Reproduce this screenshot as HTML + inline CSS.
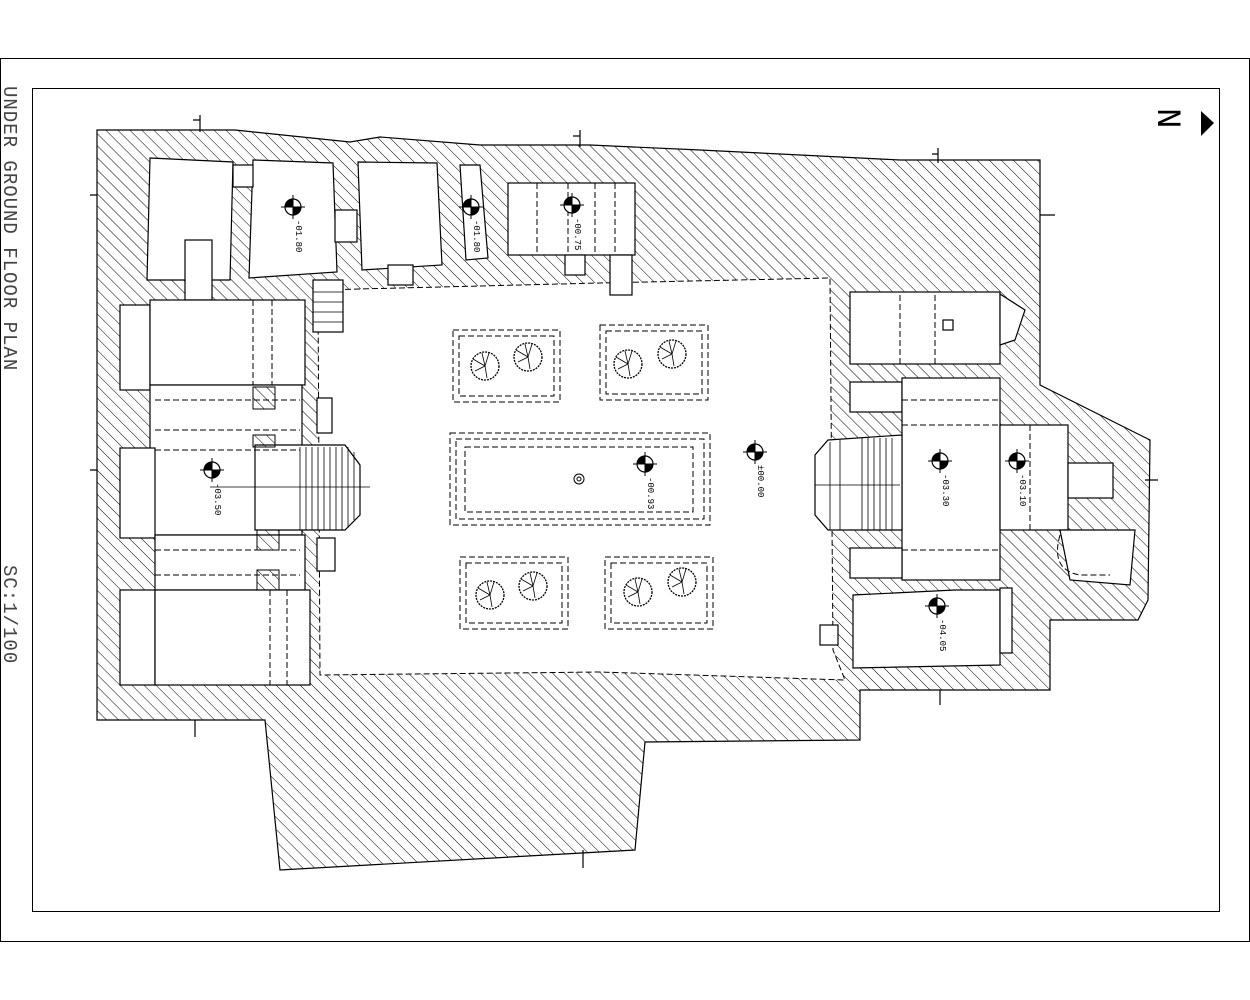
<!DOCTYPE html>
<html><head><meta charset="utf-8"><style>
html,body{margin:0;padding:0;background:#fff;}
svg{display:block;}
text{font-family:"Liberation Mono",monospace;}
</style></head><body>
<svg width="1250" height="1000" viewBox="0 0 1250 1000" xmlns="http://www.w3.org/2000/svg">
<defs>
<pattern id="hh" patternUnits="userSpaceOnUse" width="8.5" height="8.5" patternTransform="rotate(45)">
<line x1="0" y1="0" x2="8.5" y2="0" stroke="#000" stroke-width="1"/>
</pattern>
<g id="lv"><circle r="8" fill="#fff" stroke="#000" stroke-width="1.2"/><path d="M0 0 L-8 0 A8 8 0 0 1 0 -8Z M0 0 L8 0 A8 8 0 0 1 0 8Z" fill="#000"/><line x1="-12" y1="0" x2="12" y2="0" stroke="#000"/><line x1="0" y1="-12" x2="0" y2="12" stroke="#000"/></g>
<g id="tree"><circle r="14" fill="#fff" stroke="#000" stroke-width="1.3" stroke-dasharray="2 1"/><path d="M0 0 L-12 -7 M0 0 L-3 -13 M0 0 L4 -13 M0 0 L2 12 M0 0 L-10 5" stroke="#000" stroke-width="0.8"/></g>
</defs>
<rect x="0.5" y="58.5" width="1249" height="883" fill="none" stroke="#000"/>
<rect x="32.5" y="88.5" width="1187" height="823" fill="none" stroke="#000"/>
<text transform="translate(4,86) rotate(90)" font-size="19" fill="#444" letter-spacing="1">UNDER GROUND FLOOR PLAN</text>
<text transform="translate(4,565) rotate(90)" font-size="19" fill="#444" letter-spacing="1">SC:1/100</text>
<text transform="translate(1158,108) rotate(90)" font-size="34" fill="#000">N</text>
<polygon points="1201,111 1214,123 1201,136" fill="#000"/>

<polygon fill="url(#hh)" stroke="#000" stroke-width="1.2" points="97,130 235,130 350,142 380,137 480,145 590,145 700,150 800,155 900,160 1040,160 1040,385 1150,440 1148,600 1138,620 1050,620 1050,690 860,690 860,740 645,742 635,850 280,870 265,720 97,720"/>
<polygon fill="#fff" stroke="#000" stroke-dasharray="6 3" points="318,290 400,288 600,283 830,278 833,650 845,680 600,672 320,675"/>
<g fill="#fff" stroke="#000" stroke-width="1.2">
<polygon points="150,158 233,162 230,280 147,280"/>
<rect x="185" y="240" width="27" height="60"/>
<polygon points="253,160 333,163 337,272 249,278"/>
<rect x="233" y="165" width="20" height="22"/>
<rect x="335" y="210" width="22" height="32"/>
<polygon points="358,162 437,163 442,265 362,270"/>
<rect x="388" y="265" width="25" height="20"/>
<polygon points="460,165 480,165 488,258 466,260"/>
<rect x="508" y="183" width="127" height="72"/>
<rect x="565" y="255" width="20" height="20"/>
<rect x="610" y="255" width="22" height="40"/>
<rect x="313" y="280" width="30" height="52"/>
<rect x="120" y="305" width="30" height="85"/>
<rect x="150" y="300" width="155" height="85"/>
<rect x="150" y="385" width="152" height="150"/>
<rect x="120" y="448" width="35" height="90"/>
<rect x="155" y="535" width="150" height="55"/>
<rect x="120" y="590" width="35" height="95"/>
<rect x="155" y="590" width="155" height="95"/>
<rect x="317" y="398" width="15" height="35"/>
<rect x="317" y="538" width="18" height="33"/>
<polygon points="255,445 345,445 360,465 360,515 345,530 255,530"/>
<rect x="850" y="292" width="150" height="72"/>
<polygon points="1000,294 1025,310 1015,340 1000,345"/>
<rect x="850" y="382" width="52" height="30"/>
<rect x="902" y="378" width="98" height="202"/>
<rect x="850" y="548" width="52" height="30"/>
<polygon points="828,440 902,435 902,530 828,530 815,515 815,455"/>
<rect x="1000" y="425" width="68" height="105"/>
<rect x="1068" y="463" width="45" height="35"/>
<polygon points="1060,530 1135,530 1130,585 1070,580"/>
<polygon points="853,595 955,590 1000,590 1000,665 853,668"/>
<rect x="1000" y="588" width="12" height="65"/>
<rect x="820" y="625" width="18" height="20"/>
<rect x="943" y="320" width="10" height="10"/>
</g>
<g fill="url(#hh)" stroke="#000">
<rect x="253" y="387" width="22" height="22"/><rect x="253" y="435" width="22" height="12"/>
<rect x="257" y="530" width="22" height="20"/><rect x="257" y="570" width="22" height="20"/>
</g>
<g stroke="#000" stroke-width="0.8">
<path d="M300 447V530M306 447V530M312 447V530M318 447V530M324 447V530M330 447V530M336 447V530M342 447V530M348 447V528M354 452V520"/>
<path d="M862 438V530M868 438V530M874 438V530M880 438V530M886 438V530M892 438V530M840 440V530M830 442V530"/>
<path d="M313 292H343M313 302H343M313 312H343M313 322H343"/>
<path d="M210 487H370M815 485H900"/>
</g>
<g fill="none" stroke="#000" stroke-dasharray="6 3" stroke-width="1">
<path d="M253 300V385M272 300V385M155 400H300M155 430H300M155 450H300M155 535H300M155 550H300M155 575H300M270 590V685M287 590V685"/>
<path d="M537 183V255M568 183V255M595 183V255M615 183V255"/>
<path d="M900 295V364M935 295V364M902 400H1000M902 425H1000M902 550H1000M1030 425V530"/>
<path d="M1060 535Q1050 570 1080 575H1110"/>
</g>
<g fill="none" stroke="#000" stroke-dasharray="6 3">
<rect x="453" y="330" width="107" height="72"/><rect x="459" y="336" width="95" height="60"/>
<rect x="600" y="325" width="108" height="75"/><rect x="606" y="331" width="96" height="63"/>
<rect x="450" y="433" width="260" height="92"/><rect x="456" y="439" width="248" height="80"/><rect x="465" y="447" width="228" height="65"/>
<rect x="460" y="557" width="108" height="72"/><rect x="466" y="563" width="96" height="60"/>
<rect x="605" y="557" width="108" height="72"/><rect x="611" y="563" width="96" height="60"/>
</g>
<circle cx="579" cy="479" r="5" fill="none" stroke="#000"/><circle cx="579" cy="479" r="2" fill="none" stroke="#000"/>
<use href="#tree" x="485" y="366"/><use href="#tree" x="528" y="357"/>
<use href="#tree" x="628" y="364"/><use href="#tree" x="672" y="354"/>
<use href="#tree" x="490" y="595"/><use href="#tree" x="533" y="586"/>
<use href="#tree" x="638" y="592"/><use href="#tree" x="682" y="582"/>
<use href="#lv" x="293" y="207"/><use href="#lv" x="471" y="207"/><use href="#lv" x="572" y="205"/>
<use href="#lv" x="212" y="470"/><use href="#lv" x="645" y="464"/><use href="#lv" x="755" y="452"/>
<use href="#lv" x="940" y="461"/><use href="#lv" x="1017" y="461"/><use href="#lv" x="937" y="606"/>
<g font-size="9" fill="#000">
<text transform="translate(296,220) rotate(90)">-01.80</text>
<text transform="translate(474,220) rotate(90)">-01.80</text>
<text transform="translate(575,218) rotate(90)">-00.75</text>
<text transform="translate(215,483) rotate(90)">-03.50</text>
<text transform="translate(648,477) rotate(90)">-00.93</text>
<text transform="translate(758,465) rotate(90)">±00.00</text>
<text transform="translate(943,474) rotate(90)">-03.30</text>
<text transform="translate(1020,474) rotate(90)">-03.10</text>
<text transform="translate(940,619) rotate(90)">-04.05</text>
</g>
<g stroke="#000" fill="none" stroke-width="1.2">
<path d="M200 115V132M193 120H200M580 130V147M573 136H580M938 148V163M932 154H938M1040 215H1055M90 195H97M90 470H97M1145 480H1158M195 720V737M940 690V705M583 850V868"/>
</g>
</svg>
</body></html>
